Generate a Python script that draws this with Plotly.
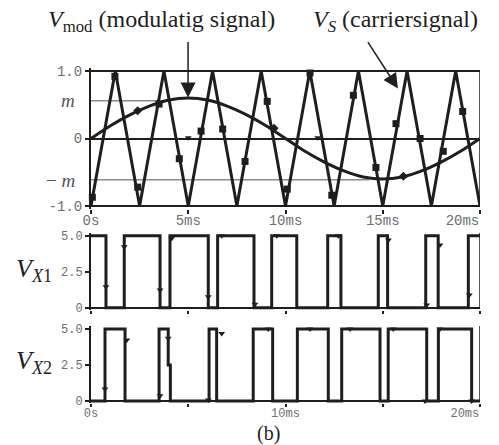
import plotly.graph_objects as go

# ---------------- data ----------------
# carrier (triangle) vertices, time in ms
carrier_t = [0, 1.25, 2.5, 3.75, 5, 6.25, 7.5, 8.75, 10, 11.25, 12.5, 13.75, 15, 16.25, 17.5, 18.75, 20]
carrier_v = [-1, 1, -1, 1, -1, 1, -1, 1, -1, 1, -1, 1, -1, 1, -1, 1, -1]

# modulating signal samples
mod_t = [0, 1, 2, 3, 4, 5, 6, 7, 8, 9, 10, 11, 12, 13, 14, 15, 16, 17, 18, 19, 20]
mod_v = [0, 0.19, 0.35, 0.48, 0.57, 0.6, 0.57, 0.48, 0.35, 0.19, 0,
         -0.19, -0.35, -0.48, -0.57, -0.6, -0.57, -0.48, -0.35, -0.19, 0]

# marker positions on the traces
carrier_mk_t = [0.07, 1.23, 2.40, 3.50, 4.54, 5.66, 6.77, 7.92, 9.06, 10.09, 11.26, 12.38, 13.49, 14.65, 15.68, 16.92, 18.11, 19.11]
carrier_mk_v = [-0.87, 0.92, -0.72, 0.51, -0.30, 0.11, 0.14, -0.34, 0.55, -0.75, 0.97, -0.84, 0.64, -0.43, 0.22, 0.0, -0.19, 0.40]
mod_mk_t = [2.40, 9.41, 16.06]
mod_mk_v = [0.41, 0.15, -0.56]
zero_mk_t = [5.0, 11.66]
zero_mk_v = [0.01, 0.01]

# m levels
m_level = 0.56
neg_m_level = -0.61
m_end = 3.5
neg_m_end = 14.3

# PWM outputs (level holds from each time until the next)
vx1_t = [0, 0.77, 1.71, 3.55, 4.06, 6.03, 6.51, 8.38, 9.29, 10.58, 12.17, 12.85, 14.77, 15.25, 17.21, 17.85, 19.40, 20]
vx1_v = [5, 0, 5, 0, 5, 0, 5, 0, 5, 0, 5, 0, 5, 0, 5, 0, 5, 5]
vx2_t = [0, 0.72, 1.75, 3.50, 3.97, 4.08, 6.07, 6.46, 8.34, 9.34, 10.61, 12.20, 12.89, 14.86, 15.28, 17.26, 17.86, 19.57, 20]
vx2_v = [0, 5, 0, 5, 2.5, 0, 5, 0, 5, 0, 5, 0, 5, 0, 5, 0, 5, 0, 0]

vx1_mk_t = [0.77, 1.71, 3.55, 4.15, 6.03, 6.72, 8.43, 9.55, 12.71, 15.29, 17.26, 17.94, 19.45]
vx1_mk_v = [1.46, 4.24, 1.23, 4.82, 0.76, 5.0, 0.24, 5.0, 5.0, 4.7, 0.19, 4.35, 0.88]
vx2_mk_t = [0.72, 1.84, 3.55, 3.97, 6.03, 6.72, 9.12, 11.26, 13.32, 15.54, 17.17, 17.94, 19.57]
vx2_mk_v = [0.83, 4.24, 0.37, 4.35, 0.07, 4.68, 5.0, 5.0, 5.0, 5.0, 0.0, 5.0, 0.0]

top_xticks = [0, 5, 10, 15]
top_xtext = ["0s", "5ms", "10ms", "15ms"]
bot_xticks = [0, 10]
bot_xtext = ["0s", "10ms"]
end_tick = [20]
end_text = ["20ms"]
top_yticks = [-1, 0, 1]
top_ytext = ["-1.0", "0", "1.0"]
pwm_yticks = [0, 2.5, 5]
pwm_ytext = ["0", "2.5", "5.0"]

# ---------------- styling ----------------
INK = "#1e1e1e"
GRAY = "#8a8a8a"
TICKC = "#6e6e6e"
MONO = "Liberation Mono, Courier New, monospace"
SERIF = "Liberation Serif, Times New Roman, serif"

fig = go.Figure()

# top panel
fig.add_trace(go.Scatter(x=mod_t, y=mod_v, mode="lines",
                         line=dict(color=INK, width=3, shape="spline"), xaxis="x", yaxis="y"))
fig.add_trace(go.Scatter(x=carrier_t, y=carrier_v, mode="lines",
                         line=dict(color=INK, width=3), xaxis="x", yaxis="y"))
fig.add_trace(go.Scatter(x=carrier_mk_t, y=carrier_mk_v, mode="markers",
                         marker=dict(symbol="square", size=7, color=INK), cliponaxis=False,
                         xaxis="x", yaxis="y"))
fig.add_trace(go.Scatter(x=mod_mk_t, y=mod_mk_v, mode="markers",
                         marker=dict(symbol="diamond", size=7, color=INK), xaxis="x", yaxis="y"))
fig.add_trace(go.Scatter(x=zero_mk_t, y=zero_mk_v, mode="markers",
                         marker=dict(symbol="triangle-down", size=6, color=INK), xaxis="x", yaxis="y"))

# PWM panels
fig.add_trace(go.Scatter(x=vx1_t, y=vx1_v, mode="lines",
                         line=dict(color=INK, width=3, shape="hv"), xaxis="x2", yaxis="y2"))
fig.add_trace(go.Scatter(x=vx1_mk_t, y=vx1_mk_v, mode="markers",
                         marker=dict(symbol="triangle-down", size=6, color=INK), cliponaxis=False,
                         xaxis="x2", yaxis="y2"))
fig.add_trace(go.Scatter(x=vx2_t, y=vx2_v, mode="lines",
                         line=dict(color=INK, width=3, shape="hv"), xaxis="x3", yaxis="y3"))
fig.add_trace(go.Scatter(x=vx2_mk_t, y=vx2_mk_v, mode="markers",
                         marker=dict(symbol="triangle-down", size=6, color=INK), cliponaxis=False,
                         xaxis="x3", yaxis="y3"))

# empty traces that tie the end-label axes into their panels
fig.add_trace(go.Scatter(x=[], y=[], mode="lines", xaxis="x4", yaxis="y", hoverinfo="skip"))
fig.add_trace(go.Scatter(x=[], y=[], mode="lines", xaxis="x5", yaxis="y3", hoverinfo="skip"))

shapes = [
    dict(type="line", xref="x", yref="y", x0=0, x1=m_end, y0=m_level, y1=m_level,
         line=dict(color=GRAY, width=1.5), layer="below"),
    dict(type="line", xref="x", yref="y", x0=0, x1=neg_m_end, y0=neg_m_level, y1=neg_m_level,
         line=dict(color=GRAY, width=1.5), layer="below"),
    dict(type="line", xref="x", yref="y", x0=20, x1=20, y0=-1, y1=1,
         line=dict(color=INK, width=1.5)),
    dict(type="line", xref="x2", yref="y2", x0=20, x1=20, y0=0, y1=5.2,
         line=dict(color=INK, width=1.5)),
    dict(type="line", xref="x3", yref="y3", x0=20, x1=20, y0=0, y1=5.2,
         line=dict(color=INK, width=1.5)),
]

XD = [91 / 499, 480 / 499]
tickfont = dict(family=MONO, size=14, color=TICKC)
tickfont_s = dict(family=MONO, size=12, color=TICKC)

common_x = dict(domain=XD, range=[0, 20], showgrid=False, zeroline=False, showline=False,
                ticks="outside", ticklen=4, tickcolor=INK, tickwidth=1.5,
                automargin=False, ticklabeloverflow="allow")

annotations = [
    dict(xref="paper", yref="paper", x=46 / 499, y=1 - 21 / 445, xanchor="left", yanchor="middle",
         text="<i>V</i><sub>mod</sub> (modulatig signal)", showarrow=False,
         font=dict(family=SERIF, size=24, color=INK)),
    dict(xref="paper", yref="paper", x=311 / 499, y=1 - 21 / 445, xanchor="left", yanchor="middle",
         text="<i>V<sub>S</sub></i> (carriersignal)", showarrow=False,
         font=dict(family=SERIF, size=24, color=INK)),
    dict(xref="x", yref="y", x=4.99, y=0.607, text="", showarrow=True, ax=0, ay=-57,
         axref="pixel", ayref="pixel", arrowhead=2, arrowsize=2, arrowwidth=1.5, arrowcolor=INK),
    dict(xref="x", yref="y", x=15.78, y=0.74, text="", showarrow=True, ax=-31, ay=-48,
         axref="pixel", ayref="pixel", arrowhead=2, arrowsize=2, arrowwidth=1.5, arrowcolor=INK),
    dict(xref="paper", yref="paper", x=77 / 499, y=1 - 100 / 445, xanchor="right", yanchor="middle",
         text="<i>m</i>", showarrow=False, font=dict(family=SERIF, size=19, color="#555555")),
    dict(xref="paper", yref="paper", x=77 / 499, y=1 - 180 / 445, xanchor="right", yanchor="middle",
         text="\u2212 <i>m</i>", showarrow=False, font=dict(family=SERIF, size=19, color="#555555")),
    dict(xref="paper", yref="paper", x=14 / 499, y=1 - 270 / 445, xanchor="left", yanchor="middle",
         text="<i>V<sub>X</sub></i><sub>1</sub>", showarrow=False,
         font=dict(family=SERIF, size=26, color=INK)),
    dict(xref="paper", yref="paper", x=14 / 499, y=1 - 362 / 445, xanchor="left", yanchor="middle",
         text="<i>V<sub>X</sub></i><sub>2</sub>", showarrow=False,
         font=dict(family=SERIF, size=26, color=INK)),
    dict(xref="paper", yref="paper", x=268 / 499, y=1 - 433 / 445, xanchor="center", yanchor="middle",
         text="(b)", showarrow=False, font=dict(family=SERIF, size=20, color=INK)),
]

common_y = dict(ticks="outside", ticklen=4, tickcolor=INK, tickwidth=1.5, automargin=False,
                showline=True, linecolor=INK, linewidth=2)

fig.update_layout(
    width=499, height=445, margin=dict(l=0, r=0, t=0, b=0),
    paper_bgcolor="white", plot_bgcolor="white", showlegend=False,
    xaxis=dict(common_x, anchor="y", tickvals=top_xticks, ticktext=top_xtext, tickfont=tickfont,
               ticklabelstandoff=-6),
    xaxis4=dict(common_x, anchor="y", overlaying="x", tickvals=end_tick, ticktext=end_text,
                ticklabelposition="outside left", tickfont=tickfont, ticklabelstandoff=-2),
    yaxis=dict(common_y, domain=[1 - 208.7 / 445, 1 - 68.3 / 445], range=[-1.04, 1.04], anchor="x",
               tickvals=top_yticks, ticktext=top_ytext, tickfont=tickfont,
               showgrid=True, gridcolor=INK, gridwidth=2, zeroline=False),
    xaxis2=dict(common_x, anchor="y2", showticklabels=False, ticklen=3, tickvals=[0, 5, 10, 15, 20]),
    yaxis2=dict(common_y, domain=[1 - 309.9 / 445, 1 - 232.8 / 445], range=[-0.15, 5.2], anchor="x2",
                tickvals=pwm_yticks, ticktext=pwm_ytext, tickfont=tickfont_s,
                showgrid=False, zeroline=True, zerolinecolor=INK, zerolinewidth=2),
    xaxis3=dict(common_x, anchor="y3", ticklen=3, tickvals=bot_xticks, ticktext=bot_xtext,
                tickfont=tickfont_s, ticklabelstandoff=-5,
                minor=dict(ticks="outside", ticklen=3, tick0=0, dtick=5, tickcolor=INK)),
    xaxis5=dict(common_x, anchor="y3", overlaying="x3", ticklen=3, tickvals=end_tick,
                ticktext=end_text, ticklabelposition="outside left", tickfont=tickfont_s,
                ticklabelstandoff=-2),
    yaxis3=dict(common_y, domain=[1 - 403.2 / 445, 1 - 326.1 / 445], range=[-0.15, 5.2], anchor="x3",
                tickvals=pwm_yticks, ticktext=pwm_ytext, tickfont=tickfont_s,
                showgrid=False, zeroline=True, zerolinecolor=INK, zerolinewidth=2),
    shapes=shapes, annotations=annotations,
)

fig.write_html("out.html", config={"displayModeBar": False},
               post_script="document.body.style.margin='0';")
